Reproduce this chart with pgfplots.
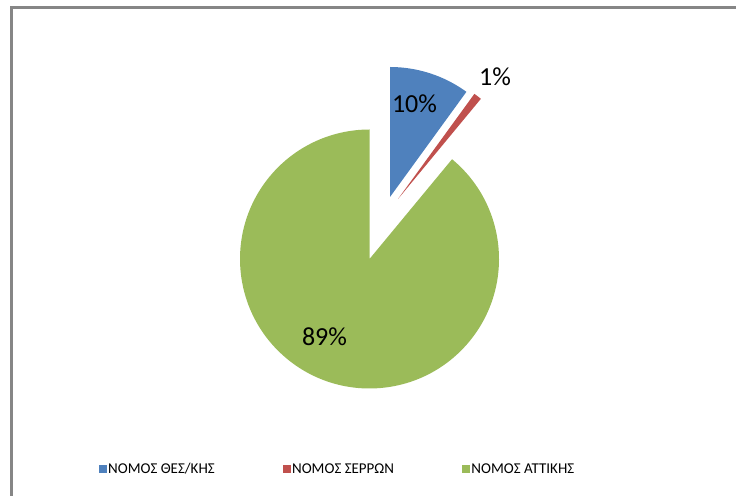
\documentclass[border=0pt]{standalone}
\usepackage{pgfplots}
\pgfplotsset{compat=1.18}
\usepackage{fontspec}
\setmainfont{Carlito}

\definecolor{piblue}{HTML}{4F81BD}
\definecolor{pired}{HTML}{C0504D}
\definecolor{pigreen}{HTML}{9BBB59}
\definecolor{framegray}{HTML}{868686}

% shares in percent, clockwise from 12 o'clock
\def\vA{10}  % ΝΟΜΟΣ ΘΕΣ/ΚΗΣ
\def\vB{1}   % ΝΟΜΟΣ ΣΕΡΡΩΝ
\def\vC{89}  % ΝΟΜΟΣ ΑΤΤΙΚΗΣ
\pgfmathsetmacro\aA{90-3.6*\vA}
\pgfmathsetmacro\aB{\aA-3.6*\vB}
\pgfmathsetmacro\aC{\aB-3.6*\vC}

\begin{document}
\begin{tikzpicture}
\begin{axis}[
    width=736bp, height=496bp, scale only axis,
    xmin=0, xmax=736, ymin=0, ymax=496,
    hide axis, clip=false,
    legend columns=3,
    legend style={at={(axis cs:337.5,27)}, anchor=center, draw=none, fill=none,
        font=\fontsize{15bp}{17bp}\selectfont,
        /tikz/every even column/.append style={column sep=66bp}},
    legend image code/.code={\fill[#1] (0bp,-3.5bp) rectangle (7bp,3.5bp);},
]
% chart frame
\draw[framegray, line width=3bp] (axis cs:11,0) -- (axis cs:11,488) -- (axis cs:736,488);

% slices (radius 130 px, first two pulled out)
\fill[piblue] (axis cs:390,299) -- ++(90:130bp) arc[start angle=90, end angle=\aA, radius=130bp] -- cycle;
\fill[pired] (axis cs:398,297) -- ++(\aA:130bp) arc[start angle=\aA, end angle=\aB, radius=130bp] -- cycle;
\fill[pigreen] (axis cs:369.5,237) -- ++(\aB:129.5bp) arc[start angle=\aB, end angle=\aC, radius=129.5bp] -- cycle;

\node[font=\fontsize{26bp}{30bp}\selectfont] at (axis cs:414.5,392) {10\%};
\node[font=\fontsize{26bp}{30bp}\selectfont] at (axis cs:495,419) {1\%};
\node[font=\fontsize{26bp}{30bp}\selectfont] at (axis cs:324.5,159.5) {89\%};

\addlegendimage{piblue}
\addlegendentry{ΝΟΜΟΣ ΘΕΣ/ΚΗΣ}
\addlegendimage{pired}
\addlegendentry{ΝΟΜΟΣ ΣΕΡΡΩΝ}
\addlegendimage{pigreen}
\addlegendentry{ΝΟΜΟΣ ΑΤΤΙΚΗΣ}
\end{axis}
\pgfresetboundingbox
\path (0,0) rectangle (736bp,496bp);
\end{tikzpicture}
\end{document}
